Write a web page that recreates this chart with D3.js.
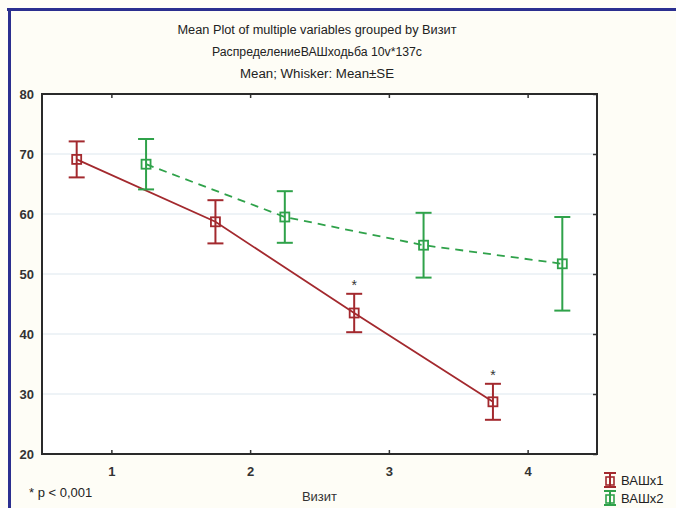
<!DOCTYPE html>
<html>
<head>
<meta charset="utf-8">
<script src="https://cdn.jsdelivr.net/npm/d3@7"></script>
<style>
  body { margin: 0; background: #fefdf6; }
  svg { display: block; font-family: "Liberation Sans", Arial, sans-serif; }
</style>
</head>
<body>
<div id="chart-area"></div>
<script>
// data
var visits = [1, 2, 3, 4];
var seriesNames = ["ВАШх1", "ВАШх2"];
var mean1 = [69.1, 58.7, 43.5, 28.7];
var se1 = [3.0, 3.6, 3.2, 3.0];
var mean2 = [68.3, 59.5, 54.8, 51.7];
var se2 = [4.2, 4.3, 5.4, 7.8];
var signif = [false, false, true, true];   // asterisks on series 1
var yTicks = [20, 30, 40, 50, 60, 70, 80];
var titles = ["Mean Plot of multiple variables grouped by  Визит",
              "РаспределениеВАШходьба 10v*137c",
              "Mean; Whisker: Mean±SE"];

var W = 676, H = 508;
var margin = { left: 42, right: 79, top: 94, bottom: 54 };
var width = W - margin.left - margin.right,
    height = H - margin.top - margin.bottom;

var red = "#a3292e", green = "#2fa24a";

var svg = d3.select("#chart-area").append("svg")
    .attr("width", W).attr("height", H);

svg.append("rect").attr("width", W).attr("height", H).attr("fill", "#fefdf6");

// blue frame at top and left
svg.append("line").attr("x1", 7).attr("x2", W).attr("y1", 9.5).attr("y2", 9.5)
    .attr("stroke", "#2b2f8f").attr("stroke-width", 3);
svg.append("line").attr("x1", 9.5).attr("x2", 9.5).attr("y1", 8).attr("y2", H)
    .attr("stroke", "#2b2f8f").attr("stroke-width", 3);

// titles
svg.selectAll(".title").data(titles).enter().append("text")
    .attr("class", "title")
    .attr("x", 317)
    .attr("y", function(d, i){ return 34 + i * 22; })
    .attr("text-anchor", "middle")
    .attr("font-size", "12px")
    .attr("fill", "#222")
    .attr("textLength", function(d, i){ return [279, 210, 154][i]; })
    .attr("lengthAdjust", "spacingAndGlyphs")
    .text(function(d){ return d; });

var g = svg.append("g")
    .attr("transform", "translate(" + margin.left + "," + margin.top + ")");

// Scales
var x = d3.scaleLinear().domain([0.5, 4.5]).range([0, width]);
var y = d3.scaleLinear().domain([20, 80]).range([height, 0]);

g.append("rect").attr("width", width).attr("height", height).attr("fill", "#fff");

// grid
g.selectAll(".grid").data(yTicks.slice(1, -1)).enter().append("line")
    .attr("class", "grid")
    .attr("x1", 0).attr("x2", width)
    .attr("y1", function(d){ return y(d); }).attr("y2", function(d){ return y(d); })
    .attr("stroke", "#dde7ee").attr("stroke-width", 1);

// axes with inward ticks
var xAxisCall = d3.axisBottom(x).tickValues(visits).tickSize(-4).tickPadding(13)
    .tickFormat(d3.format("d"));
g.append("g").attr("class", "x axis")
    .attr("transform", "translate(0," + height + ")")
    .call(xAxisCall);
g.append("g").call(d3.axisTop(x).tickValues(visits).tickSize(-4).tickFormat(""));

var yAxisCall = d3.axisLeft(y).tickValues(yTicks).tickSize(0).tickPadding(8);
g.append("g").attr("class", "y axis").call(yAxisCall);
g.append("g").attr("transform", "translate(" + width + ",0)")
    .call(d3.axisRight(y).tickValues(yTicks).tickSize(-4).tickFormat(""));

g.selectAll(".domain").remove();
g.selectAll(".tick line").attr("stroke", "#333").attr("stroke-width", 1.5);
g.selectAll(".tick text").attr("font-size", "13px").attr("fill", "#333")
    .attr("font-weight", "bold").attr("font-family", "Liberation Sans, Arial, sans-serif");

g.append("rect").attr("width", width).attr("height", height)
    .attr("fill", "none").attr("stroke", "#2a2a2a").attr("stroke-width", 2);

// series
var series = [
    { name: seriesNames[0], mean: mean1, se: se1, off: -0.25, color: red, dash: null },
    { name: seriesNames[1], mean: mean2, se: se2, off: 0.25, color: green, dash: "8,6" }
];

var line = d3.line()
    .x(function(d){ return x(d.x); })
    .y(function(d){ return y(d.m); });

series.forEach(function(s){
    var pts = visits.map(function(v, i){
        return { x: v + s.off, m: s.mean[i], se: s.se[i] };
    });
    var sg = g.append("g");
    sg.append("path").datum(pts)
        .attr("d", line)
        .attr("fill", "none")
        .attr("stroke", s.color)
        .attr("stroke-width", 1.8)
        .attr("stroke-dasharray", s.dash);
    var bars = sg.selectAll(".bar").data(pts).enter().append("g");
    bars.append("line")
        .attr("x1", function(d){ return x(d.x); }).attr("x2", function(d){ return x(d.x); })
        .attr("y1", function(d){ return y(d.m + d.se); })
        .attr("y2", function(d){ return y(d.m - d.se); })
        .attr("stroke", s.color).attr("stroke-width", 2);
    [1, -1].forEach(function(sgn){
        bars.append("line")
            .attr("x1", function(d){ return x(d.x) - 8; })
            .attr("x2", function(d){ return x(d.x) + 8; })
            .attr("y1", function(d){ return y(d.m + sgn * d.se); })
            .attr("y2", function(d){ return y(d.m + sgn * d.se); })
            .attr("stroke", s.color).attr("stroke-width", 2);
    });
    bars.append("rect")
        .attr("x", function(d){ return x(d.x) - 4.5; })
        .attr("y", function(d){ return y(d.m) - 4.5; })
        .attr("width", 9).attr("height", 9)
        .attr("fill", "none")
        .attr("stroke", s.color).attr("stroke-width", 1.8);
});

// asterisks
g.selectAll(".star").data(visits.filter(function(v, i){ return signif[i]; }))
    .enter().append("text")
    .attr("x", function(v){ return x(v - 0.25); })
    .attr("y", function(v){ var i = visits.indexOf(v); return y(mean1[i] + se1[i]) - 4; })
    .attr("text-anchor", "middle")
    .attr("font-size", "14px")
    .attr("fill", "#333")
    .text("*");

// x label and footnote
svg.append("text").attr("x", margin.left + width / 2).attr("y", 501)
    .attr("text-anchor", "middle").attr("font-size", "13px").attr("fill", "#333")
    .text("Визит");
svg.append("text").attr("x", 29).attr("y", 497)
    .attr("font-size", "13px").attr("fill", "#222")
    .text("* p < 0,001");

// legend
var leg = svg.selectAll(".legend").data(series).enter().append("g")
    .attr("transform", function(d, i){ return "translate(610," + (480 + i * 18) + ")"; });
leg.append("line").attr("x1", 0).attr("x2", 0).attr("y1", -7).attr("y2", 7)
    .attr("stroke", function(d){ return d.color; }).attr("stroke-width", 2);
leg.append("line").attr("x1", -6).attr("x2", 6).attr("y1", -7).attr("y2", -7)
    .attr("stroke", function(d){ return d.color; }).attr("stroke-width", 2);
leg.append("line").attr("x1", -6).attr("x2", 6).attr("y1", 7).attr("y2", 7)
    .attr("stroke", function(d){ return d.color; }).attr("stroke-width", 2);
leg.append("rect").attr("x", -4).attr("y", -3).attr("width", 8).attr("height", 8)
    .attr("fill", "none").attr("stroke", function(d){ return d.color; }).attr("stroke-width", 1.6);
leg.append("text").attr("x", 11).attr("y", 5)
    .attr("font-size", "13px").attr("fill", "#222")
    .text(function(d){ return d.name; });
</script>
</body>
</html>
